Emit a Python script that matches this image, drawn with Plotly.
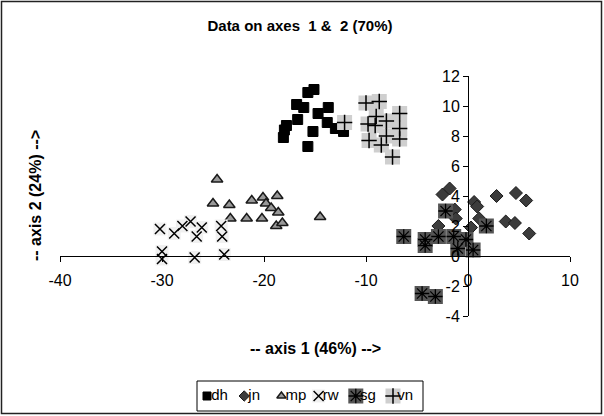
import plotly.graph_objects as go

# ---- data ----
dh_x = [-15.1, -15.7, -16.8, -16.1, -13.7, -14.7, -16.7, -13.8, -13.0, -17.8, -18.0, -18.1, -15.2, -15.7, -12.2]
dh_y = [11.1, 10.9, 10.1, 9.9, 9.9, 9.5, 9.1, 8.9, 8.5, 8.7, 8.4, 7.9, 8.3, 7.3, 8.3]

jn_x = [-2.5, -1.8, 0.6, 0.9, -1.3, -1.2, 1.1, -2.9, 0.3, 2.8, 4.7, 5.7, 3.7, 4.6, 6.0]
jn_y = [4.1, 4.5, 3.6, 3.3, 3.1, 2.5, 2.5, 2.0, 1.9, 4.0, 4.2, 3.7, 2.3, 2.2, 1.5]

mp_x = [-24.6, -25.0, -23.4, -21.2, -20.1, -18.7, -19.8, -19.3, -18.6, -21.7, -20.2, -18.8, -18.2, -14.5, -23.3]
mp_y = [5.1, 3.5, 3.4, 3.7, 3.9, 4.0, 3.5, 3.2, 2.9, 2.5, 2.5, 2.0, 2.2, 2.6, 2.5]

rw_x = [-30.2, -28.8, -28.0, -27.2, -26.6, -26.1, -24.2, -24.1, -30.0, -30.0, -26.8, -23.9]
rw_y = [1.8, 1.5, 2.0, 2.3, 1.3, 1.9, 2.0, 1.3, 0.3, -0.2, -0.1, 0.1]

sg_x = [-2.2, -6.3, -4.2, -4.2, -2.9, -1.4, -0.2, -1.0, 0.5, 1.8, -4.5, -3.2]
sg_y = [3.0, 1.3, 1.1, 0.7, 1.3, 1.3, 1.1, 0.5, 0.4, 2.0, -2.5, -2.7]

vn_x = [-10.0, -8.7, -9.0, -9.8, -9.1, -8.0, -6.7, -6.7, -9.7, -8.0, -8.5, -6.7, -7.4, -12.1]
vn_y = [10.2, 10.3, 9.3, 8.8, 8.7, 9.0, 9.5, 8.5, 7.7, 8.0, 7.4, 7.8, 6.6, 8.9]

series_names = ["dh", "jn", "mp", "rw", "sg", "vn"]
x_ticks = [-40, -30, -20, -10, 0, 10]
y_ticks = [-4, -2, 0, 2, 4, 6, 8, 10, 12]
x_range = [-40, 10]
y_range = [-4, 12]

FONT = "Liberation Sans, Arial, sans-serif"
NB = "\u00a0"

styles = {
    "dh": (None, dict(symbol="square", size=10, color="black", line=dict(color="black", width=1))),
    "jn": (None, dict(symbol="diamond", size=10, color="#3c3c3c", line=dict(color="#1a1a1a", width=1))),
    "mp": (None, dict(symbol="triangle-up", size=10, color="#999999", line=dict(color="#1a1a1a", width=1.5))),
    "rw": (dict(symbol="square", size=13, color="#f0f0f0", line=dict(width=0)),
           dict(symbol="x-thin-open", size=10, color="black", line=dict(color="black", width=1.5))),
    "sg": (dict(symbol="square", size=15, color="#555555", line=dict(width=0)),
           dict(symbol="asterisk-open", size=12, color="black", line=dict(color="black", width=1.3))),
    "vn": (dict(symbol="square", size=15, color="#cfcfcf", line=dict(width=0)),
           dict(symbol="cross-thin-open", size=11, color="black", line=dict(color="black", width=1.5))),
}
data = {"dh": (dh_x, dh_y), "jn": (jn_x, jn_y), "mp": (mp_x, mp_y),
        "rw": (rw_x, rw_y), "sg": (sg_x, sg_y), "vn": (vn_x, vn_y)}

fig = go.Figure()

for name in series_names:
    xs, ys = data[name]
    bg, sym = styles[name]
    if bg is not None:
        fig.add_trace(go.Scatter(x=xs, y=ys, mode="markers", showlegend=False,
                                 hoverinfo="skip", marker=bg))
    fig.add_trace(go.Scatter(x=xs, y=ys, mode="markers", name=name, showlegend=False,
                             marker=sym))

def legend_marker(m, shrink):
    m = dict(m)
    m["size"] = max(6, m["size"] - shrink)
    return m

# legend drawn as a small categorical scatter on its own axes
for name in series_names:
    bg, sym = styles[name]
    if bg is not None:
        fig.add_trace(go.Scatter(x=[name], y=[0], xaxis="x2", yaxis="y2", mode="markers",
                                 showlegend=False, hoverinfo="skip",
                                 marker=legend_marker(bg, 0)))
    shrink = 2 if bg is None else 0
    fig.add_trace(go.Scatter(x=[name], y=[0], xaxis="x2", yaxis="y2", mode="markers",
                             showlegend=False, hoverinfo="skip",
                             marker=legend_marker(sym, shrink)))
# legend labels on top of all legend symbols
fig.add_trace(go.Scatter(x=series_names, y=[0] * len(series_names), xaxis="x2", yaxis="y2",
                         mode="text", text=[NB + n for n in series_names],
                         textposition="middle right", cliponaxis=False,
                         textfont=dict(family=FONT, size=15, color="black"),
                         showlegend=False, hoverinfo="skip"))

W, H = 604, 416
# plot area in pixels
L, R, T, B = 60, 570, 76, 316

def px(xp):
    return xp / W

def py(yp):
    return 1 - yp / H

# where the axes cross (data 0,0) in pixels
x0_px = L + (0 - x_range[0]) / (x_range[1] - x_range[0]) * (R - L)
y0_px = B - (0 - y_range[0]) / (y_range[1] - y_range[0]) * (B - T)

# legend box pixels
LB_L, LB_R, LB_T, LB_B = 197, 423, 381, 411
first_c, last_c = 207, 393
step = (last_c - first_c) / (len(series_names) - 1)
leg_range = [-(first_c - LB_L) / step, len(series_names) - 1 + (LB_R - last_c) / step]

fig.update_layout(
    width=W, height=H,
    margin=dict(l=0, r=0, t=0, b=0, pad=0, autoexpand=False),
    paper_bgcolor="white", plot_bgcolor="rgba(0,0,0,0)",
    font=dict(family=FONT, size=16, color="black"),
    showlegend=False,
    xaxis=dict(domain=[px(L), px(R)], range=x_range, tickvals=x_ticks,
               ticktext=[str(v) for v in x_ticks],
               anchor="free", position=py(y0_px),
               showline=True, linecolor="black", linewidth=1,
               ticks="outside", ticklen=5, tickcolor="black",
               showgrid=False, zeroline=False, ticklabelstandoff=5,
               tickfont=dict(family=FONT, size=16, color="black")),
    yaxis=dict(domain=[py(B), py(T)], range=y_range, tickvals=y_ticks,
               ticktext=[str(v) for v in y_ticks],
               anchor="free", position=px(x0_px),
               showline=True, linecolor="black", linewidth=1,
               ticks="outside", ticklen=5, tickcolor="black",
               showgrid=False, zeroline=False,
               tickfont=dict(family=FONT, size=16, color="black")),
    xaxis2=dict(domain=[px(LB_L), px(LB_R)], range=leg_range, type="category",
                categoryorder="array", categoryarray=series_names,
                anchor="y2", visible=False, fixedrange=True),
    yaxis2=dict(domain=[py(LB_B), py(LB_T)], range=[-1, 1], anchor="x2",
                visible=False, fixedrange=True),
    title=dict(text="<b>Data on axes" + NB + " 1 &" + NB + " 2 (70%)</b>", x=px(300),
               xanchor="center", y=py(26), yanchor="middle",
               font=dict(family=FONT, size=15, color="black")),
    annotations=[
        dict(text="<b>-- axis 1 (46%) --></b>", xref="paper", yref="paper",
             x=px(315), y=py(348), xanchor="center", yanchor="middle",
             showarrow=False, font=dict(family=FONT, size=16, color="black")),
        dict(text="<b>-- axis 2 (24%) --></b>", xref="paper", yref="paper",
             x=px(35), y=py(196), xanchor="center", yanchor="middle", textangle=-90,
             showarrow=False, font=dict(family=FONT, size=16, color="black")),
    ],
    shapes=[
        dict(type="rect", xref="paper", yref="paper",
             x0=px(1.5), x1=px(601.5), y0=py(413.5), y1=py(1.5),
             line=dict(color="#222222", width=1.5), fillcolor="rgba(0,0,0,0)", layer="below"),
        dict(type="rect", xref="paper", yref="paper",
             x0=px(LB_L), x1=px(LB_R), y0=py(LB_B), y1=py(LB_T),
             line=dict(color="black", width=1), fillcolor="white", layer="below"),
    ],
)

fig.write_html("out.html")
